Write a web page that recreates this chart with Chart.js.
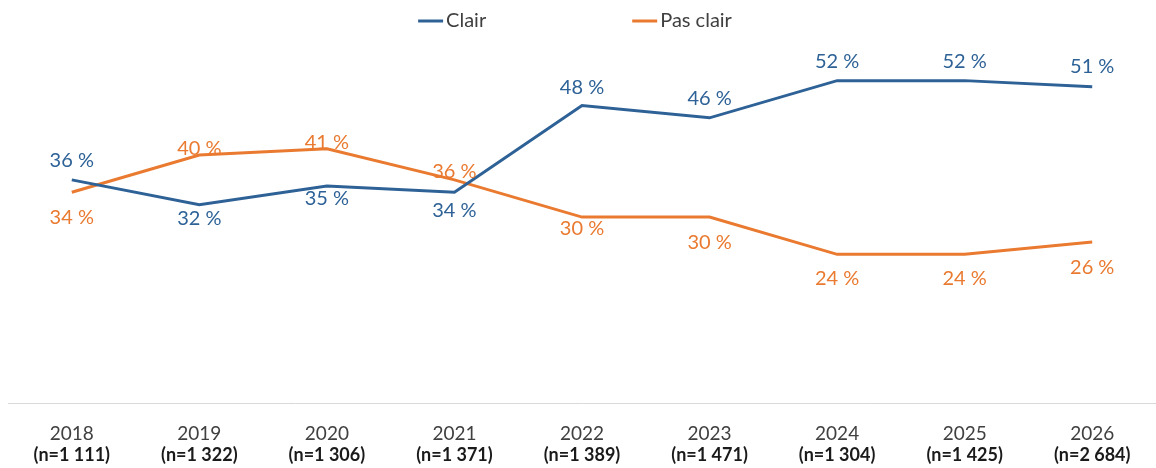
<!DOCTYPE html>
<html lang="fr">
<head>
  <meta charset="UTF-8">
  <title>Clair / Pas clair</title>
  <script src="https://cdn.jsdelivr.net/npm/chart.js"></script>
  <style>
    html, body { margin: 0; padding: 0; background: #fff; }
    #wrap { width: 1156px; height: 468px; position: relative; }
  </style>
</head>
<body>
  <div id="wrap"><canvas id="chart"></canvas></div>

  <script>
    // data
    const years    = ['2018', '2019', '2020', '2021', '2022', '2023', '2024', '2025', '2026'];
    const samples  = ['(n=1 111)', '(n=1 322)', '(n=1 306)', '(n=1 371)', '(n=1 389)', '(n=1 471)', '(n=1 304)', '(n=1 425)', '(n=2 684)'];
    const clair    = [36, 32, 35, 34, 48, 46, 52, 52, 51];
    const pasClair = [34, 40, 41, 36, 30, 30, 24, 24, 26];

    // vertical shift of each value label from its point (px)
    const clairLabelDy = [-19, 14, 12, 18, -18, -19, -19, -19, -20];
    const pasLabelDy   = [25, -7, -6, -8, 11, 25, 24, 24, 26];

    const BLUE = '#2E6297';
    const ORANGE = '#E97A30';
    const FONT = 'Lato, "Open Sans", sans-serif';

    // value labels drawn at each point
    const valueLabels = {
      id: 'valueLabels',
      afterDatasetsDraw(chart) {
        const ctx = chart.ctx;
        ctx.save();
        ctx.font = '20px ' + FONT;
        ctx.textAlign = 'center';
        ctx.textBaseline = 'middle';
        chart.data.datasets.forEach((ds, i) => {
          const meta = chart.getDatasetMeta(i);
          ctx.fillStyle = ds.borderColor;
          meta.data.forEach((pt, j) => {
            ctx.fillText(ds.data[j] + ' %', pt.x, pt.y + ds.labelDy[j]);
          });
        });
        ctx.restore();
      }
    };

    // legend spread like the original (wide gap between entries)
    const spreadLegend = {
      id: 'spreadLegend',
      afterDraw(chart) {
        const ctx = chart.ctx;
        ctx.save();
        ctx.font = '20px ' + FONT;
        ctx.textBaseline = 'middle';
        const lineLen = 25, gapText = 3, gapItems = 146, y = 21;
        const items = chart.data.datasets.map(ds => ({
          text: ds.label, color: ds.borderColor,
          w: lineLen + gapText + ctx.measureText(ds.label).width
        }));
        const total = items.reduce((s, it) => s + it.w, 0) + gapItems * (items.length - 1);
        let x = (chart.width - total) / 2 - 3;
        items.forEach(it => {
          ctx.strokeStyle = it.color;
          ctx.lineWidth = 3;
          ctx.beginPath();
          ctx.moveTo(x, y);
          ctx.lineTo(x + lineLen, y);
          ctx.stroke();
          ctx.fillStyle = '#404040';
          ctx.fillText(it.text, x + lineLen + gapText, y);
          x += it.w + gapItems;
        });
        ctx.restore();
      }
    };

    new Chart(document.getElementById('chart'), {
      type: 'line',
      data: {
        labels: years,
        datasets: [
          {
            label: 'Clair',
            data: clair,
            borderColor: BLUE,
            backgroundColor: BLUE,
            borderWidth: 3,
            pointRadius: 0,
            tension: 0,
            labelDy: clairLabelDy
          },
          {
            label: 'Pas clair',
            data: pasClair,
            borderColor: ORANGE,
            backgroundColor: ORANGE,
            borderWidth: 3,
            pointRadius: 0,
            tension: 0,
            labelDy: pasLabelDy
          }
        ]
      },
      options: {
        responsive: true,
        maintainAspectRatio: false,
        animation: false,
        layout: { padding: { top: 31, left: 8, right: 0, bottom: 4 } },
        plugins: {
          legend: { display: false },
          tooltip: { enabled: false }
        },
        scales: {
          x: {
            offset: true,
            weight: 0,
            grid: { display: false, drawTicks: false },
            border: { display: true, color: '#D9D9D9', width: 1 },
            ticks: {
              color: '#404040',
              padding: 19,
              maxRotation: 0,
              autoSkip: false,
              font: { family: FONT, size: 19 }
            }
          },
          x2: {
            type: 'category',
            position: 'bottom',
            labels: samples,
            offset: true,
            weight: 1,
            grid: { display: false, drawTicks: false },
            border: { display: false },
            ticks: {
              color: '#1a1a1a',
              padding: -20,
              maxRotation: 0,
              autoSkip: false,
              font: { family: FONT, size: 18, weight: 'bold' }
            }
          },
          y: {
            display: false,
            min: 0,
            max: 60
          }
        }
      },
      plugins: [valueLabels, spreadLegend]
    });
  </script>
</body>
</html>
